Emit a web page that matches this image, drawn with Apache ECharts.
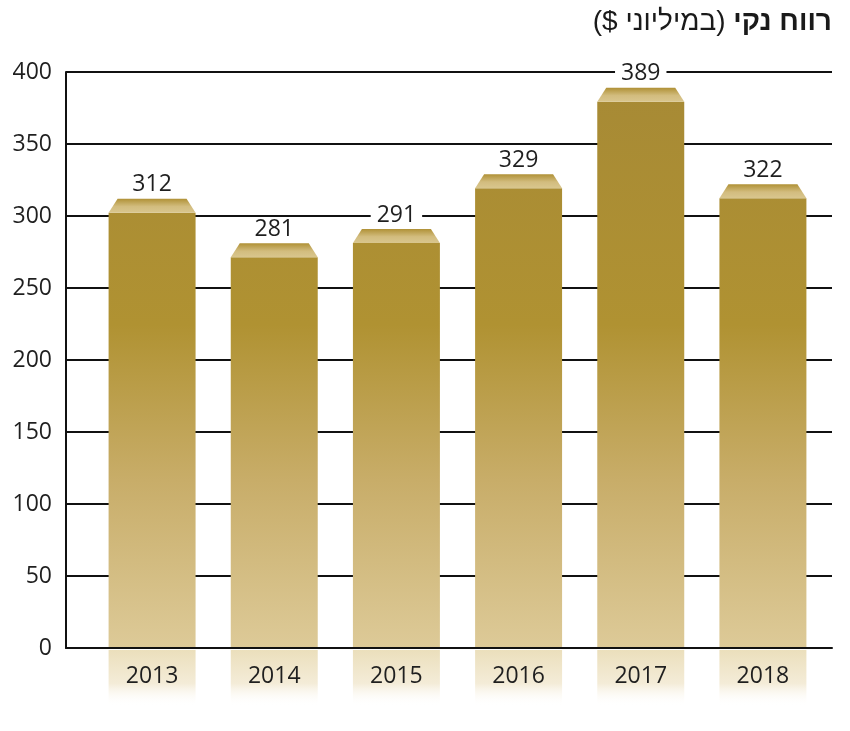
<!DOCTYPE html>
<html>
<head>
<meta charset="utf-8">
<script src="https://cdn.jsdelivr.net/npm/echarts@6/dist/echarts.min.js"></script>
<style>
html,body{margin:0;padding:0;background:#fff;}
#chart{width:850px;height:731px;}
</style>
</head>
<body>
<div id="chart"></div>
<script>
// ---- data ----
const categories = ['2013', '2014', '2015', '2016', '2017', '2018'];
const netProfit = [312, 281, 291, 329, 389, 322];
const yMin = 0;
const yMax = 400;
const yInterval = 50;
const titleBold = 'רווח נקי';
const titleRegular = '($ במיליוני)';

const chart = echarts.init(document.getElementById('chart'));

const bodyGrad = {
  type: 'linear', x: 0, y: 90, x2: 0, y2: 648, global: true,
  colorStops: [
    { offset: 0, color: '#a78a35' },
    { offset: 0.42, color: '#b09232' },
    { offset: 0.7, color: '#c8ad69' },
    { offset: 1, color: '#ddca98' }
  ]
};
const capGrad = {
  type: 'linear', x: 0, y: 0, x2: 0, y2: 1,
  colorStops: [
    { offset: 0, color: '#b09136' },
    { offset: 0.55, color: '#d2bc7e' },
    { offset: 1, color: '#d9c68e' }
  ]
};
const extGrad = {
  type: 'linear', x: 0, y: 0, x2: 0, y2: 1,
  colorStops: [
    { offset: 0, color: '#ebdfbc' },
    { offset: 0.6, color: '#f4ecd8' },
    { offset: 1, color: 'rgba(255,255,255,0)' }
  ]
};

function renderItem(params, api) {
  const v = api.value(1);
  const top = api.coord([api.value(0), v]);
  const base = api.coord([api.value(0), 0]);
  const w = api.size([1, 0])[0] * 0.712;
  const x0 = top[0] - w / 2;
  const x1 = top[0] + w / 2;
  const capH = 14, inset = 9;
  return {
    type: 'group',
    children: [
      { type: 'rect', shape: { x: x0, y: base[1] + 2, width: w, height: 56 }, style: { fill: extGrad } },
      { type: 'rect', shape: { x: x0, y: top[1] + capH, width: w, height: base[1] - top[1] - capH }, style: { fill: bodyGrad } },
      { type: 'polygon', shape: { points: [[x0, top[1] + capH], [x0 + inset, top[1]], [x1 - inset, top[1]], [x1, top[1] + capH]] }, style: { fill: capGrad } },
      { type: 'text', x: top[0], y: top[1] - 14, z2: 10,
        style: { text: String(v), fill: '#1f1f1f', font: '23px "Open Sans"', align: 'center', verticalAlign: 'middle',
                 backgroundColor: '#ffffff', padding: [0, 6] } }
    ]
  };
}

chart.setOption({
  animation: false,
  backgroundColor: '#ffffff',
  title: {
    text: '{r|' + titleRegular + '} {b|' + titleBold + '}',
    right: 13,
    top: 0,
    textStyle: {
      fontSize: 28,
      fontWeight: 'normal',
      fontFamily: '"Liberation Sans"',
      rich: {
        r: { fontSize: 28, fontWeight: 'normal', fontFamily: '"Liberation Sans", "DejaVu Sans"', color: '#1a1a1a', lineHeight: 34 },
        b: { fontSize: 28, fontWeight: 'bold', fontFamily: '"Liberation Sans", "DejaVu Sans"', color: '#1a1a1a', lineHeight: 34 }
      }
    }
  },
  grid: [
    { left: 66, right: 18, top: 72, bottom: 83 },
    { left: 91, right: 26, top: 72, bottom: 83 }
  ],
  xAxis: [
    { gridIndex: 0, type: 'category', data: [''], z: 10,
      axisLine: { show: true, lineStyle: { color: '#111', width: 2 } },
      axisTick: { show: false }, axisLabel: { show: false }, splitLine: { show: false } },
    { gridIndex: 1, type: 'category', data: categories, z: 10,
      axisLine: { show: false }, axisTick: { show: false },
      axisLabel: { show: true, margin: 17, fontSize: 23, color: '#1f1f1f', fontFamily: '"Open Sans"' } }
  ],
  yAxis: [
    { gridIndex: 0, type: 'value', min: yMin, max: yMax, interval: yInterval,
      axisLine: { show: true, lineStyle: { color: '#111', width: 2 } },
      axisTick: { show: false },
      axisLabel: { margin: 14, fontSize: 23, color: '#1f1f1f', fontFamily: '"Open Sans"' },
      splitLine: { show: true, lineStyle: { color: '#111', width: 2 } } },
    { gridIndex: 1, type: 'value', min: yMin, max: yMax, interval: yInterval, show: false,
      splitLine: { show: false } }
  ],
  series: [{
    type: 'custom',
    xAxisIndex: 1,
    yAxisIndex: 1,
    renderItem: renderItem,
    encode: { x: 0, y: 1 },
    data: netProfit.map((v, i) => [i, v]),
    z: 5
  }]
});
</script>
</body>
</html>
